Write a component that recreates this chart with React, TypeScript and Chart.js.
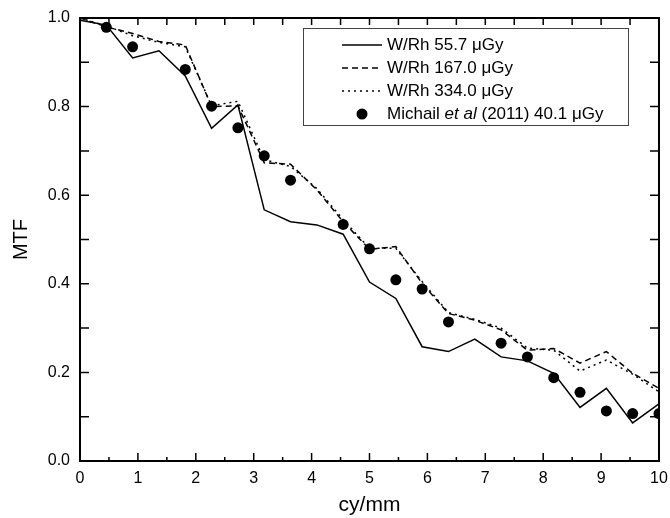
import { useEffect, useRef } from 'react';
import { Chart, registerables } from 'chart.js';
Chart.register(...registerables);

const FONT = '"Liberation Sans", Arial, sans-serif';

// x positions of simulated curves (cy/mm)
const X_SIM = [0, 0.455, 0.909, 1.364, 1.818, 2.273, 2.727, 3.182, 3.636, 4.091, 4.545, 5.0, 5.455, 5.909, 6.364, 6.818, 7.273, 7.727, 8.182, 8.636, 9.091, 9.545, 10.0];
const MTF_557 = [0.995, 0.984, 0.91, 0.926, 0.869, 0.751, 0.804, 0.567, 0.54, 0.533, 0.512, 0.404, 0.367, 0.258, 0.247, 0.275, 0.235, 0.226, 0.198, 0.121, 0.164, 0.086, 0.129];
const MTF_1670 = [1.0, 0.98, 0.965, 0.947, 0.939, 0.8, 0.802, 0.673, 0.67, 0.612, 0.54, 0.478, 0.484, 0.401, 0.333, 0.318, 0.296, 0.25, 0.254, 0.221, 0.247, 0.198, 0.164];
const MTF_3340 = [1.0, 0.982, 0.96, 0.945, 0.935, 0.802, 0.812, 0.68, 0.665, 0.615, 0.545, 0.48, 0.48, 0.405, 0.335, 0.32, 0.3, 0.255, 0.25, 0.203, 0.228, 0.196, 0.156];

// Michail et al (2011)
const X_MICHAIL = [0.455, 0.909, 1.818, 2.273, 2.727, 3.182, 3.636, 4.545, 5.0, 5.455, 5.909, 6.364, 7.273, 7.727, 8.182, 8.636, 9.091, 9.545, 10.0];
const MTF_MICHAIL = [0.979, 0.935, 0.884, 0.801, 0.752, 0.689, 0.634, 0.534, 0.479, 0.409, 0.388, 0.314, 0.266, 0.235, 0.188, 0.155, 0.113, 0.107, 0.107];

const LABELS = ['W/Rh 55.7 \u03bcGy', 'W/Rh 167.0 \u03bcGy', 'W/Rh 334.0 \u03bcGy'];

const pts = (xs: number[], ys: number[]) => xs.map((x, i) => ({ x, y: ys[i] }));

const framePlugin = {
  id: 'frameTicks',
  afterDraw(chart: any) {
    const { ctx, chartArea: a, scales } = chart;
    const xs = scales.x, ys = scales.y;
    ctx.save();
    ctx.strokeStyle = '#000';
    ctx.lineWidth = 2;
    ctx.strokeRect(a.left, a.top, a.right - a.left, a.bottom - a.top);
    ctx.lineWidth = 1.5;
    ctx.beginPath();
    for (let i = 0; i <= 20; i++) {
      const v = i / 2;
      const px = xs.getPixelForValue(v);
      const major = i % 2 === 0;
      ctx.moveTo(px, a.bottom);
      ctx.lineTo(px, a.bottom - (major ? 8 : 4));
      ctx.moveTo(px, a.top);
      ctx.lineTo(px, a.top + 7);
    }
    for (let i = 0; i <= 10; i++) {
      const py = ys.getPixelForValue(i / 10);
      ctx.moveTo(a.left, py);
      ctx.lineTo(a.left + 9, py);
      ctx.moveTo(a.right, py);
      ctx.lineTo(a.right - 9, py);
    }
    ctx.stroke();

    // legend
    const bx = 303, by = 28, bw = 325, bh = 97;
    ctx.fillStyle = '#fff';
    ctx.fillRect(bx, by, bw, bh);
    ctx.strokeStyle = '#444';
    ctx.lineWidth = 1;
    ctx.strokeRect(bx + 0.5, by + 0.5, bw, bh);
    const rows = [45, 68, 91, 114];
    const dashes = [[], [6, 4], [2, 4]];
    ctx.strokeStyle = '#000';
    ctx.lineWidth = 1.5;
    for (let i = 0; i < 3; i++) {
      ctx.setLineDash(dashes[i]);
      ctx.beginPath();
      ctx.moveTo(342, rows[i]);
      ctx.lineTo(382, rows[i]);
      ctx.stroke();
    }
    ctx.setLineDash([]);
    ctx.fillStyle = '#000';
    ctx.beginPath();
    ctx.arc(362, rows[3], 5.5, 0, Math.PI * 2);
    ctx.fill();
    ctx.textBaseline = 'middle';
    ctx.textAlign = 'left';
    ctx.font = `17px ${FONT}`;
    for (let i = 0; i < 3; i++) ctx.fillText(LABELS[i], 387, rows[i]);
    let tx = 387;
    const parts: [string, boolean][] = [['Michail ', false], ['et al', true], [' (2011) 40.1 \u03bcGy', false]];
    for (const [t, it] of parts) {
      ctx.font = `${it ? 'italic ' : ''}17px ${FONT}`;
      ctx.fillText(t, tx, rows[3]);
      tx += ctx.measureText(t).width;
    }
    ctx.restore();
  },
};

export default function App() {
  const ref = useRef<HTMLCanvasElement>(null);
  useEffect(() => {
    const chart = new Chart(ref.current!, {
      type: 'line',
      data: {
        datasets: [
          { label: LABELS[0], data: pts(X_SIM, MTF_557), borderColor: '#000', borderWidth: 1.5, pointRadius: 0, tension: 0, fill: false },
          { label: LABELS[1], data: pts(X_SIM, MTF_1670), borderColor: '#000', borderWidth: 1.5, borderDash: [6, 4], pointRadius: 0, tension: 0, fill: false },
          { label: LABELS[2], data: pts(X_SIM, MTF_3340), borderColor: '#000', borderWidth: 1.5, borderDash: [2, 4], pointRadius: 0, tension: 0, fill: false },
          { label: 'Michail et al (2011) 40.1 \u03bcGy', data: pts(X_MICHAIL, MTF_MICHAIL), showLine: false, pointRadius: 5.5, pointBackgroundColor: '#000', pointBorderWidth: 0, borderColor: '#000' },
        ],
      },
      options: {
        responsive: false,
        animation: false,
        layout: { padding: { top: 18, right: 11, left: 0, bottom: 0 } },
        plugins: { legend: { display: false }, tooltip: { enabled: false } },
        scales: {
          x: {
            type: 'linear', min: 0, max: 10,
            grid: { display: false, drawTicks: false },
            border: { display: false },
            ticks: { stepSize: 1, color: '#000', padding: 8, font: { family: FONT, size: 16 }, maxRotation: 0 },
            title: { display: true, text: 'cy/mm', color: '#000', font: { family: FONT, size: 21 }, padding: { top: 0, bottom: 0 } },
            afterFit: (s: any) => { s.height = 57; s.paddingLeft = 0; s.paddingRight = 0; },
          },
          y: {
            type: 'linear', min: 0, max: 1,
            grid: { display: false, drawTicks: false },
            border: { display: false },
            ticks: { stepSize: 0.2, color: '#000', padding: 10, font: { family: FONT, size: 16 }, callback: (v: any) => Number(v).toFixed(1) },
            title: { display: true, text: 'MTF', color: '#000', font: { family: FONT, size: 20 }, padding: { top: 9, bottom: 0 } },
            afterFit: (s: any) => { s.width = 80; s.paddingTop = 0; s.paddingBottom = 0; },
          },
        },
      },
      plugins: [framePlugin],
    } as any);
    return () => chart.destroy();
  }, []);
  return (
    <div style={{ position: 'absolute', left: 0, top: 0, width: 670, height: 518, background: '#fff' }}>
      <canvas ref={ref} width={670} height={518} style={{ display: 'block' }} />
    </div>
  );
}
